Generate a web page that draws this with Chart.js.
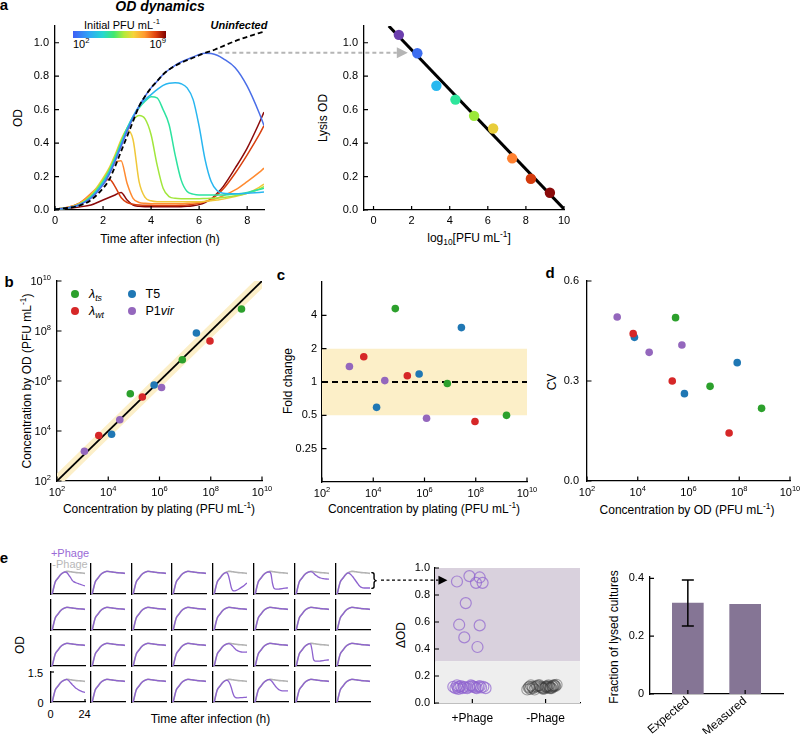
<!DOCTYPE html>
<html>
<head>
<meta charset="utf-8">
<title>OD dynamics</title>
<script src="https://cdn.jsdelivr.net/npm/chart.js@4.4.1/dist/chart.umd.min.js"></script>
<style>
  body { margin: 0; background: #fff; }
  #stage { position: relative; width: 800px; height: 734px; overflow: hidden;
           font-family: 'Liberation Sans', Arial, sans-serif; color: #000; }
  #stage canvas { position: absolute; }
  .t { position: absolute; white-space: nowrap; line-height: 1; font-size: 12px; transform: translate(-50%, -50%); }
  .r { transform: translate(-50%, -50%) rotate(-90deg); }
  .l { transform: translate(0, -50%); }
  .rr { transform: translate(-100%, -50%); }
  .p { font-weight: bold; font-size: 15px; }
  .bi { font-weight: bold; font-style: italic; }
  .dot { position: absolute; width: 8px; height: 8px; border-radius: 50%; margin: -4px 0 0 -4px; }
  sup, sub { font-size: 70%; line-height: 0; }
  #cbar { position: absolute; left: 73px; top: 31px; width: 93px; height: 6.5px;
          background: linear-gradient(to right, #3f5ff5 0%, #2fa8f5 18%, #25d8d0 32%, #40e870 44%,
                      #b4ea38 55%, #f5d43a 65%, #ff9a30 77%, #e0400f 89%, #7f0000 100%); }
</style>
</head>
<body>
<div id="stage">
  <div class="t p" style="left:4px;top:4px">a</div>
  <div class="t bi" style="left:160px;top:6px;font-size:14px">OD dynamics</div>
  <div class="t" style="left:122px;top:24.5px;font-size:11px">Initial PFU mL<sup>-1</sup></div>
  <div id="cbar"></div>
  <div class="t l" style="left:73px;top:44px;font-size:11px">10<sup>2</sup></div>
  <div class="t rr" style="left:166px;top:44px;font-size:11px">10<sup>9</sup></div>
  <div class="t bi" style="left:239px;top:24.5px;font-size:11px">Uninfected</div>
  <div class="t r" style="left:18px;top:118px">OD</div>
  <div class="t" style="left:160px;top:238.5px">Time after infection (h)</div>
  <div class="t r" style="left:323px;top:117.5px">Lysis OD</div>
  <div class="t" style="left:469px;top:237.5px">log<sub>10</sub>[PFU mL<sup>-1</sup>]</div>

  <div class="t p" style="left:9px;top:281px">b</div>
  <div class="t p" style="left:281px;top:273.5px">c</div>
  <div class="t p" style="left:550px;top:272px">d</div>
  <div class="t r" style="left:27px;top:381px">Concentration by OD (PFU mL<sup>-1</sup>)</div>
  <div class="t" style="left:159px;top:509px">Concentration by plating (PFU mL<sup>-1</sup>)</div>
  <div class="t r" style="left:287.5px;top:381px">Fold change</div>
  <div class="t" style="left:424px;top:509px">Concentration by plating (PFU mL<sup>-1</sup>)</div>
  <div class="t r" style="left:552px;top:381.5px">CV</div>
  <div class="t" style="left:687px;top:510px">Concentration by OD (PFU mL<sup>-1</sup>)</div>

  <div class="t p" style="left:4px;top:557px">e</div>
  <div class="t" style="left:70px;top:552.5px;font-size:11px;color:#9a6ad6">+Phage</div>
  <div class="t" style="left:70px;top:563.5px;font-size:11px;color:#b8b8b8">-Phage</div>
  <div class="t r" style="left:20px;top:644.5px">OD</div>
  <div class="t" style="left:35.5px;top:673px;font-size:11px">1.5</div>
  <div class="t" style="left:40.5px;top:702.5px;font-size:11px">0</div>
  <div class="t" style="left:50.5px;top:713.5px;font-size:11px">0</div>
  <div class="t" style="left:84.5px;top:713.5px;font-size:11px">24</div>
  <div class="t" style="left:210.5px;top:719px">Time after infection (h)</div>
  <div class="t r" style="left:401px;top:635px">ΔOD</div>
  <div class="t r" style="left:614px;top:637px">Fraction of lysed cultures</div>
</div>
<script>
const FONT = "'Liberation Sans', Arial, sans-serif";
Chart.defaults.font.family = FONT;
Chart.defaults.font.size = 11;
Chart.defaults.color = '#000';
Chart.defaults.plugins.legend.display = false;
Chart.defaults.plugins.tooltip.enabled = false;

// a, left: OD over time for each initial phage titre
const hours = [0, 0.5, 1, 1.5, 2, 2.25, 2.5, 2.75, 3, 3.25, 3.5, 3.75, 4, 4.25, 4.5, 4.75, 5, 5.25, 5.5, 5.75, 6, 6.25, 6.5, 6.75, 7, 7.5, 8, 8.5, 8.7];
const uninfected = [0.005, 0.012, 0.025, 0.06, 0.13, 0.18, 0.26, 0.35, 0.44, 0.53, 0.62, 0.68, 0.73, 0.77, 0.81, 0.84, 0.862, 0.88, 0.896, 0.91, 0.925, 0.94, 0.95, 0.965, 0.98, 1.01, 1.035, 1.058, 1.065];
const odBlue = [0.005, 0.012, 0.03, 0.07, 0.15, 0.21, 0.29, 0.38, 0.47, 0.55, 0.62, 0.68, 0.73, 0.77, 0.81, 0.84, 0.865, 0.885, 0.9, 0.915, 0.93, 0.937, 0.935, 0.925, 0.905, 0.85, 0.74, 0.58, 0.505];
const odCyan = [0.005, 0.012, 0.03, 0.075, 0.16, 0.22, 0.3, 0.39, 0.48, 0.56, 0.62, 0.66, 0.69, 0.72, 0.745, 0.758, 0.76, 0.755, 0.73, 0.66, 0.5, 0.3, 0.17, 0.115, 0.1, 0.097, 0.1, 0.105, 0.107];
const odTeal = [0.005, 0.012, 0.03, 0.08, 0.17, 0.23, 0.31, 0.4, 0.49, 0.56, 0.61, 0.65, 0.677, 0.67, 0.6, 0.51, 0.33, 0.18, 0.11, 0.095, 0.09, 0.09, 0.09, 0.09, 0.09, 0.095, 0.105, 0.122, 0.13];
const odLime = [0.005, 0.012, 0.035, 0.085, 0.18, 0.24, 0.32, 0.41, 0.49, 0.54, 0.565, 0.545, 0.45, 0.27, 0.13, 0.08, 0.07, 0.068, 0.068, 0.068, 0.068, 0.069, 0.07, 0.072, 0.075, 0.085, 0.1, 0.125, 0.14];
const odYellow = [0.005, 0.013, 0.035, 0.09, 0.19, 0.25, 0.33, 0.42, 0.48, 0.42, 0.17, 0.075, 0.055, 0.05, 0.05, 0.05, 0.05, 0.05, 0.05, 0.05, 0.05, 0.052, 0.055, 0.06, 0.065, 0.08, 0.1, 0.135, 0.155];
const odOrange = [0.005, 0.015, 0.04, 0.1, 0.17, 0.22, 0.285, 0.295, 0.16, 0.07, 0.045, 0.04, 0.038, 0.038, 0.038, 0.038, 0.038, 0.038, 0.04, 0.042, 0.045, 0.05, 0.06, 0.07, 0.085, 0.12, 0.17, 0.225, 0.25];
const odRed = [0.005, 0.015, 0.04, 0.09, 0.16, 0.185, 0.14, 0.075, 0.045, 0.035, 0.03, 0.028, 0.028, 0.027, 0.027, 0.027, 0.027, 0.028, 0.03, 0.034, 0.04, 0.05, 0.065, 0.09, 0.125, 0.22, 0.33, 0.45, 0.505];
const odDarkRed = [0.005, 0.01, 0.018, 0.03, 0.06, 0.075, 0.09, 0.105, 0.06, 0.03, 0.022, 0.02, 0.02, 0.02, 0.02, 0.02, 0.02, 0.02, 0.022, 0.026, 0.032, 0.045, 0.065, 0.1, 0.14, 0.25, 0.37, 0.52, 0.585];
const curveColors = ['#4a6ee8', '#28b6f0', '#2de3a0', '#a2e63c', '#f0c83a', '#ff8a30', '#d8400f', '#8b0a0a'];
const hourTicks = [0, 2, 4, 6, 8];
const odTicks = [0, 0.2, 0.4, 0.6, 0.8, 1.0];

// a, right: OD at lysis vs initial titre
const lysisLog = [1.33, 2.3, 3.3, 4.3, 5.28, 6.28, 7.28, 8.26, 9.26];
const lysisOD = [1.047, 0.937, 0.743, 0.66, 0.563, 0.487, 0.309, 0.187, 0.103];
const lysisColors = ['#6c3fae', '#3d6ef0', '#28b8ef', '#2ee69c', '#9be83a', '#e8cd3a', '#ff8030', '#d43a0c', '#8a0a0a'];
const fitLog = [0.8, 10.05];
const fitOD = [1.1, 0];
const logTicks = [0, 2, 4, 6, 8, 10];
const lysisLink = { fromHour: 6.8, toLog: 1.8, od: 0.94 };

// b-d: one row per phage (lambda ts, lambda wt, T5, P1vir), values as log10 PFU/mL
const strains = ['λ<sub>ts</sub>', 'λ<sub>wt</sub>', 'T5', 'P1<i>vir</i>'];
const strainColors = ['#2ca02c', '#d62728', '#1f77b4', '#9467bd'];
const platingLog = [[4.86, 6.89, 9.2], [3.63, 5.33, 7.97], [4.13, 5.79, 7.44], [3.07, 4.45, 6.08]];
const odLog = [[5.49, 6.85, 8.88], [3.82, 5.36, 7.6], [3.87, 5.84, 7.92], [3.19, 4.45, 5.74]];
const foldChange = [[4.6, 0.97, 0.5], [1.69, 1.14, 0.44], [0.59, 1.18, 3.1], [1.38, 1.03, 0.47]];
const cvValues = [[0.49, 0.284, 0.218], [0.442, 0.30, 0.144], [0.431, 0.262, 0.355], [0.492, 0.386, 0.408]];
const decadeTicks = [2, 4, 6, 8, 10];
const foldTicks = [0.25, 0.5, 1, 2, 4];
const cvTicks = [0, 0.3, 0.6];
const bandFactor = 2;

// e: 32 cultures, -phage growth and the lysed +phage curves
const miniHours = [0, 1, 2, 3, 4, 5, 6, 7, 8, 9, 10, 11, 12, 13, 14, 15, 16, 17, 18, 20, 22, 24];
const growth = [0, 0.05, 0.35, 0.6, 0.72, 0.8, 0.9, 0.98, 1.04, 1.08, 1.11, 1.13, 1.13, 1.12, 1.11, 1.1, 1.09, 1.08, 1.07, 1.06, 1.05, 1.03];
const lys1 = [0, 0.05, 0.35, 0.6, 0.72, 0.8, 0.9, 0.98, 1.04, 1.08, 1.1, 1.08, 1.0, 0.9, 0.8, 0.68, 0.62, 0.58, 0.55, 0.5, 0.45, 0.4];
const lys2 = [0, 0.05, 0.35, 0.6, 0.72, 0.8, 0.9, 0.98, 1.04, 1.07, 1.06, 0.9, 0.6, 0.3, 0.17, 0.16, 0.17, 0.2, 0.24, 0.33, 0.43, 0.55];
const lys3 = [0, 0.05, 0.35, 0.6, 0.72, 0.8, 0.9, 0.98, 1.04, 1.08, 1.1, 1.1, 1.0, 0.55, 0.3, 0.25, 0.24, 0.24, 0.25, 0.27, 0.29, 0.31];
const lys4 = [0, 0.05, 0.35, 0.6, 0.72, 0.8, 0.9, 0.98, 1.04, 1.08, 1.11, 1.12, 1.1, 1.05, 0.98, 0.92, 0.87, 0.83, 0.8, 0.77, 0.75, 0.74];
const lys5 = [0, 0.05, 0.35, 0.6, 0.72, 0.8, 0.9, 0.98, 1.04, 1.05, 1.0, 0.93, 0.85, 0.75, 0.65, 0.55, 0.45, 0.38, 0.33, 0.3, 0.3, 0.3];
const lys6 = [0, 0.05, 0.35, 0.6, 0.72, 0.8, 0.9, 0.98, 1.04, 1.08, 1.11, 1.12, 1.1, 1.05, 0.98, 0.9, 0.83, 0.78, 0.74, 0.7, 0.69, 0.7];
const lys7 = [0, 0.05, 0.35, 0.6, 0.72, 0.8, 0.9, 0.98, 1.04, 1.08, 1.12, 1.1, 0.8, 0.35, 0.25, 0.24, 0.24, 0.24, 0.25, 0.27, 0.29, 0.31];
const lys8 = [0, 0.05, 0.35, 0.6, 0.72, 0.8, 0.9, 0.98, 1.04, 1.08, 1.11, 1.13, 1.1, 1.03, 0.95, 0.87, 0.8, 0.73, 0.67, 0.58, 0.52, 0.48];
const lys9 = [0, 0.05, 0.35, 0.6, 0.72, 0.8, 0.9, 0.98, 1.04, 1.08, 1.08, 1.03, 0.9, 0.7, 0.45, 0.28, 0.22, 0.21, 0.21, 0.22, 0.23, 0.24];
const lys10 = [0, 0.05, 0.35, 0.6, 0.72, 0.8, 0.9, 0.98, 1.04, 1.08, 1.12, 1.12, 1.08, 1.0, 0.9, 0.8, 0.72, 0.65, 0.6, 0.56, 0.56, 0.56];
const lysedPanels = [0, 4, 5, 6, 7, 20, 22, 24, 28, 29];
const lysedCurves = [lys1, lys2, lys3, lys4, lys5, lys6, lys7, lys8, lys9, lys10];

const deltaLabels = ['+Phage', '-Phage'];
const plusX = [0.79, 0.96, 1.10, 1.05, 1.14, 0.91, 0.82, 1.10, 0.89, 1.07, 0.74, 0.77, 0.79, 0.8, 0.82, 0.84, 0.86, 0.88, 0.9, 0.93, 0.96, 0.98, 1.0, 1.02, 1.04, 1.06, 1.08, 1.1, 1.12, 1.15, 1.18, 0.81];
const plusY = [0.90, 0.94, 0.93, 0.89, 0.89, 0.74, 0.58, 0.575, 0.486, 0.415, 0.12, 0.11, 0.13, 0.115, 0.12, 0.125, 0.11, 0.12, 0.115, 0.11, 0.12, 0.13, 0.125, 0.12, 0.115, 0.11, 0.12, 0.125, 0.115, 0.12, 0.11, 0.105];
const minusX = [1.75, 1.78, 1.8, 1.83, 1.86, 1.88, 1.9, 1.93, 1.95, 1.97, 1.99, 2.0, 2.02, 2.04, 2.05, 2.07, 2.08, 2.1, 2.12, 2.13, 2.15, 1.77, 1.82, 1.85, 1.92, 1.96, 2.01, 2.06, 2.09, 2.11, 1.79, 2.03];
const minusY = [0.1, 0.12, 0.13, 0.11, 0.12, 0.125, 0.13, 0.12, 0.115, 0.105, 0.11, 0.12, 0.125, 0.13, 0.12, 0.115, 0.11, 0.12, 0.13, 0.125, 0.135, 0.115, 0.12, 0.1, 0.13, 0.11, 0.12, 0.11, 0.125, 0.13, 0.105, 0.115];
const deltaTicks = [0, 0.2, 0.4, 0.6, 0.8, 1.0];
const lysisThreshold = 0.31;
const deltaLink = { od: 0.91, tipX: 0.66 };

const barLabels = ['Expected', 'Measured'];
const barValues = [0.315, 0.31];
const expectedErr = [0.235, 0.395];
const barTicks = [0, 0.2, 0.4];

// layout of the 8 x 4 small panels
const miniX = [51, 91, 132, 172, 213, 254, 295, 336];
const miniY = [564, 600, 636, 672];

const stage = document.getElementById('stage');

// legend of b
strains.forEach((s, k) => {
  const x = k < 2 ? 75 : 131.5, y = k % 2 ? 311 : 294;
  const d = document.createElement('div');
  d.className = 'dot';
  d.style.cssText = `left:${x}px;top:${y}px;background:${strainColors[k]}`;
  stage.appendChild(d);
  const t = document.createElement('div');
  t.className = 't l';
  t.style.cssText = `left:${x + 14}px;top:${y}px;font-size:12.5px`;
  t.innerHTML = k < 2 ? '<i>' + s + '</i>' : s;
  stage.appendChild(t);
});

// tick marks pointing into the plot
const inTicks = {
  id: 'inTicks',
  afterDraw(chart) {
    const ctx = chart.ctx;
    Object.values(chart.scales).forEach(s => {
      const len = s.options.inTick;
      if (!len) return;
      ctx.save();
      ctx.strokeStyle = '#000';
      ctx.lineWidth = 1.2;
      ctx.beginPath();
      s.ticks.forEach(t => {
        const p = s.getPixelForValue(t.value);
        if (s.axis === 'x') { ctx.moveTo(p, s.top); ctx.lineTo(p, s.top - len); }
        else { ctx.moveTo(s.right, p); ctx.lineTo(s.right + len, p); }
      });
      ctx.stroke();
      ctx.restore();
    });
  }
};

// 10^n labels with a raised exponent
const supTicks = {
  id: 'supTicks',
  afterDraw(chart) {
    const ctx = chart.ctx;
    Object.values(chart.scales).forEach(s => {
      if (!s.options.sup) return;
      ctx.save();
      ctx.fillStyle = '#000';
      ctx.textBaseline = 'alphabetic';
      ctx.textAlign = 'left';
      s.ticks.forEach(t => {
        const ex = String(Math.round(t.value));
        ctx.font = '11px ' + FONT;
        const wb = ctx.measureText('10').width;
        ctx.font = '7.5px ' + FONT;
        const we = ctx.measureText(ex).width;
        let x, y;
        if (s.axis === 'x') { x = s.getPixelForValue(t.value) - (wb + we) / 2; y = s.top + 15; }
        else { x = s.right - 6 - wb - we; y = s.getPixelForValue(t.value) + 4; }
        ctx.font = '11px ' + FONT;
        ctx.fillText('10', x, y);
        ctx.font = '7.5px ' + FONT;
        ctx.fillText(ex, x + wb, y - 5);
      });
      ctx.restore();
    });
  }
};
Chart.register(inTicks, supTicks);

function pts(xs, ys) { return xs.map((x, i) => ({ x: x, y: ys[i] })); }

function axis(o) {
  return {
    type: o.type || 'linear', min: o.min, max: o.max, bounds: 'data', offset: false,
    grid: { display: false, drawTicks: false, tickLength: 0 },
    border: { display: true, color: '#000', width: 1.3 },
    afterBuildTicks: s => { s.ticks = o.ticks.map(v => ({ value: v })); },
    ticks: { display: !!o.fmt, callback: o.fmt, padding: o.pad === undefined ? 4 : o.pad, autoSkip: false,
             maxRotation: o.rot || 0, minRotation: o.rot || 0, font: { size: o.size || 11 } },
    inTick: o.inTick === undefined ? 4 : o.inTick,
    sup: !!o.sup
  };
}

// box = plot area on the page [x0, x1, y0, y1]; pad = room for axes [left, top, right, bottom]
function makeChart(box, pad, cfg) {
  const cv = document.createElement('canvas');
  const w = box[1] - box[0] + pad[0] + pad[2];
  const h = box[3] - box[2] + pad[1] + pad[3];
  cv.width = w; cv.height = h;
  cv.style.left = (box[0] - pad[0]) + 'px';
  cv.style.top = (box[2] - pad[1]) + 'px';
  cv.style.width = w + 'px'; cv.style.height = h + 'px';
  stage.appendChild(cv);
  const o = cfg.options;
  o.responsive = false;
  o.animation = false;
  o.devicePixelRatio = 1;
  o.events = [];
  o.layout = { autoPadding: false, padding: { left: 0, top: pad[1], right: pad[2], bottom: 0 } };
  o.scales.x.afterFit = s => { s.height = pad[3]; s.paddingLeft = 0; s.paddingRight = 0; };
  o.scales.y.afterFit = s => { s.width = pad[0]; s.paddingTop = 0; s.paddingBottom = 0; };
  return new Chart(cv, cfg);
}

// ---- a, left ----
const odCurves = [odBlue, odCyan, odTeal, odLime, odYellow, odOrange, odRed, odDarkRed];
const chartA1 = makeChart([55, 264, 26, 210], [40, 10, 10, 22], {
  type: 'line',
  data: { datasets: [
    { data: pts(hours, uninfected), borderColor: '#000', borderDash: [5, 3], borderWidth: 1.8 }
  ].concat(odCurves.map((c, i) => ({ data: pts(hours, c), borderColor: curveColors[i], borderWidth: 1.5 }))) },
  options: {
    elements: { point: { radius: 0 }, line: { cubicInterpolationMode: 'monotone' } },
    scales: {
      x: axis({ min: 0, max: 8.7, ticks: hourTicks, fmt: v => String(v) }),
      y: axis({ min: 0, max: 1.1, ticks: odTicks, fmt: v => v.toFixed(1), pad: 6 })
    }
  }
});

// ---- a, right ----
const chartA2 = makeChart([364, 564, 26, 210], [40, 10, 10, 22], {
  type: 'line',
  data: { datasets: [
    { data: pts(lysisLog, lysisOD), showLine: false, pointRadius: 5.2, pointBorderWidth: 0, pointBackgroundColor: lysisColors },
    { data: pts(fitLog, fitOD), borderColor: '#000', borderWidth: 3, pointRadius: 0 }
  ] },
  options: {
    scales: {
      x: axis({ min: -0.5, max: 10, ticks: logTicks, fmt: v => String(v) }),
      y: axis({ min: 0, max: 1.1, ticks: odTicks, fmt: v => v.toFixed(1), pad: 6 })
    }
  }
});

// ---- b ----
const bandLog = Math.log10(bandFactor);
const chartB = makeChart([57, 262, 281, 481], [40, 8, 12, 22], {
  type: 'line',
  data: { datasets: strains.map((s, k) => ({
      data: pts(platingLog[k], odLog[k]), showLine: false, pointRadius: 3.8, pointBorderWidth: 0,
      pointBackgroundColor: strainColors[k] }))
    .concat([
      { data: pts([2, 10], [2, 10]), borderColor: '#000', borderWidth: 1.8, pointRadius: 0 },
      { data: pts([2, 10], [2 + bandLog, 10 + bandLog]), borderWidth: 0, pointRadius: 0, fill: '+1', backgroundColor: '#fcefc8' },
      { data: pts([2, 10], [2 - bandLog, 10 - bandLog]), borderWidth: 0, pointRadius: 0 }
    ]) },
  options: {
    scales: {
      x: axis({ min: 2, max: 10, ticks: decadeTicks, sup: true, inTick: 4.5 }),
      y: axis({ min: 2, max: 10, ticks: decadeTicks, sup: true, inTick: 4.5 })
    }
  }
});

// ---- c ----
const chartC = makeChart([322, 527, 282, 482], [40, 8, 12, 22], {
  type: 'line',
  data: { datasets: strains.map((s, k) => ({
      data: pts(platingLog[k], foldChange[k]), showLine: false, pointRadius: 3.8, pointBorderWidth: 0,
      pointBackgroundColor: strainColors[k] }))
    .concat([
      { data: pts([2, 10], [1, 1]), borderColor: '#000', borderWidth: 1.8, borderDash: [6, 4], pointRadius: 0 },
      { data: pts([2, 10], [bandFactor, bandFactor]), borderWidth: 0, pointRadius: 0, fill: '+1', backgroundColor: '#fcefc8' },
      { data: pts([2, 10], [1 / bandFactor, 1 / bandFactor]), borderWidth: 0, pointRadius: 0 }
    ]) },
  options: {
    scales: {
      x: axis({ min: 2, max: 10, ticks: decadeTicks, sup: true, inTick: 4.5 }),
      y: axis({ type: 'logarithmic', min: 0.125, max: 8, ticks: foldTicks, fmt: v => String(v), pad: 5, inTick: 4.5 })
    }
  }
});

// ---- d ----
const chartD = makeChart([587, 790, 281, 481], [40, 8, 10, 22], {
  type: 'line',
  data: { datasets: strains.map((s, k) => ({
      data: pts(odLog[k], cvValues[k]), showLine: false, pointRadius: 3.8, pointBorderWidth: 0,
      pointBackgroundColor: strainColors[k] })) },
  options: {
    scales: {
      x: axis({ min: 2, max: 10, ticks: decadeTicks, sup: true, inTick: 4.5 }),
      y: axis({ min: 0, max: 0.6, ticks: cvTicks, fmt: v => v.toFixed(1), pad: 8, inTick: 4.5 })
    }
  }
});

// ---- e, small panels ----
const minis = [];
for (let i = 0; i < 32; i++) {
  const r = Math.floor(i / 8), c = i % 8;
  const k = lysedPanels.indexOf(i);
  const plus = k >= 0 ? lysedCurves[k] : growth;
  const corner = i === 24;
  minis.push(makeChart([miniX[c], miniX[c] + 34, miniY[r], miniY[r] + 30], [2, 2, 2, 2], {
    type: 'line',
    data: { datasets: [
      { data: pts(miniHours, plus), borderColor: '#8e63cf', borderWidth: 1.3 },
      { data: pts(miniHours, growth), borderColor: '#b3b3b3', borderWidth: 1.6 }
    ] },
    options: {
      elements: { point: { radius: 0 }, line: { cubicInterpolationMode: 'monotone' } },
      scales: {
        x: axis({ min: 0, max: 24, ticks: corner ? [24] : [0], inTick: corner ? 3 : 0 }),
        y: axis({ min: 0, max: 1.5, ticks: corner ? [1.5] : [0], inTick: corner ? 3 : 0 })
      }
    }
  }));
}

// ---- e, delta OD ----
const deltaShade = {
  id: 'deltaShade',
  beforeDatasetsDraw(c) {
    const { ctx, chartArea: a, scales: { y } } = c;
    const t = y.getPixelForValue(lysisThreshold);
    ctx.save();
    ctx.fillStyle = '#d9d1dd';
    ctx.fillRect(a.left, a.top, a.right - a.left, t - a.top);
    ctx.fillStyle = '#eeeeee';
    ctx.fillRect(a.left, t, a.right - a.left, a.bottom - t);
    ctx.restore();
  }
};
const chartDelta = makeChart([435, 580, 568, 703], [36, 8, 4, 24], {
  type: 'line',
  data: { datasets: [
    { data: pts(plusX, plusY), showLine: false, pointRadius: 5.5, pointBorderWidth: 1.2,
      pointBackgroundColor: 'rgba(0,0,0,0)', pointBorderColor: 'rgba(142,99,207,0.7)' },
    { data: pts(minusX, minusY), showLine: false, pointRadius: 5.5, pointBorderWidth: 1.2,
      pointBackgroundColor: 'rgba(0,0,0,0)', pointBorderColor: 'rgba(60,60,60,0.45)' }
  ] },
  options: {
    scales: {
      x: axis({ min: 0.49, max: 2.47, ticks: [1, 2], fmt: v => deltaLabels[v - 1], pad: 8, size: 12 }),
      y: axis({ min: 0, max: 1, ticks: deltaTicks, fmt: v => v.toFixed(1), pad: 5 })
    }
  },
  plugins: [deltaShade]
});

// ---- e, fraction of lysed cultures ----
const errBar = {
  id: 'errBar',
  afterDatasetsDraw(c) {
    const { ctx, scales: { x, y } } = c;
    const px = x.getPixelForValue(1);
    const lo = y.getPixelForValue(expectedErr[0]), hi = y.getPixelForValue(expectedErr[1]);
    ctx.save();
    ctx.strokeStyle = '#000';
    ctx.lineWidth = 1.5;
    ctx.beginPath();
    ctx.moveTo(px, lo); ctx.lineTo(px, hi);
    ctx.moveTo(px - 6, lo); ctx.lineTo(px + 6, lo);
    ctx.moveTo(px - 6, hi); ctx.lineTo(px + 6, hi);
    ctx.stroke();
    ctx.restore();
  }
};
const chartBar = makeChart([650, 783, 577, 694], [30, 8, 12, 40], {
  type: 'bar',
  data: { datasets: [
    { data: barValues.map((v, i) => ({ x: i + 1, y: v })), backgroundColor: '#857595', barThickness: 31 }
  ] },
  options: {
    scales: {
      x: axis({ min: 0.34, max: 2.66, ticks: [1, 2], fmt: v => barLabels[v - 1], pad: 0, size: 12, rot: 40 }),
      y: axis({ min: 0, max: 0.405, ticks: barTicks, fmt: v => (v === 0 ? '0' : v.toFixed(1)), pad: 6 })
    }
  },
  plugins: [errBar]
});

// ---- connecting arrows ----
const ov = document.createElement('canvas');
ov.width = 800; ov.height = 734;
ov.style.left = '0px'; ov.style.top = '0px';
stage.appendChild(ov);
const g = ov.getContext('2d');
const pageX = (ch, v) => ch.canvas.offsetLeft + ch.scales.x.getPixelForValue(v);
const pageY = (ch, v) => ch.canvas.offsetTop + ch.scales.y.getPixelForValue(v);

function arrow(x0, tip, y, len, half, color, width, dash) {
  g.save();
  g.strokeStyle = color; g.fillStyle = color;
  g.lineWidth = width; g.setLineDash(dash);
  g.beginPath(); g.moveTo(x0, y); g.lineTo(tip - len, y); g.stroke();
  g.setLineDash([]);
  g.beginPath(); g.moveTo(tip, y); g.lineTo(tip - len, y - half); g.lineTo(tip - len, y + half); g.closePath(); g.fill();
  g.restore();
}

arrow(pageX(chartA1, lysisLink.fromHour), pageX(chartA2, lysisLink.toLog), pageY(chartA1, lysisLink.od),
      11, 5.5, '#b5b5b5', 2, [4, 3]);

const m7 = minis[7];
const braceX = m7.canvas.offsetLeft + m7.chartArea.right + 1;
const yLink = pageY(chartDelta, deltaLink.od);
g.font = '18px ' + FONT;
g.fillStyle = '#000';
g.textBaseline = 'middle';
g.fillText('}', braceX, yLink);
arrow(braceX + 10, pageX(chartDelta, deltaLink.tipX), yLink, 9, 4.5, '#000', 1.2, [3, 2.5]);
</script>
</body>
</html>
